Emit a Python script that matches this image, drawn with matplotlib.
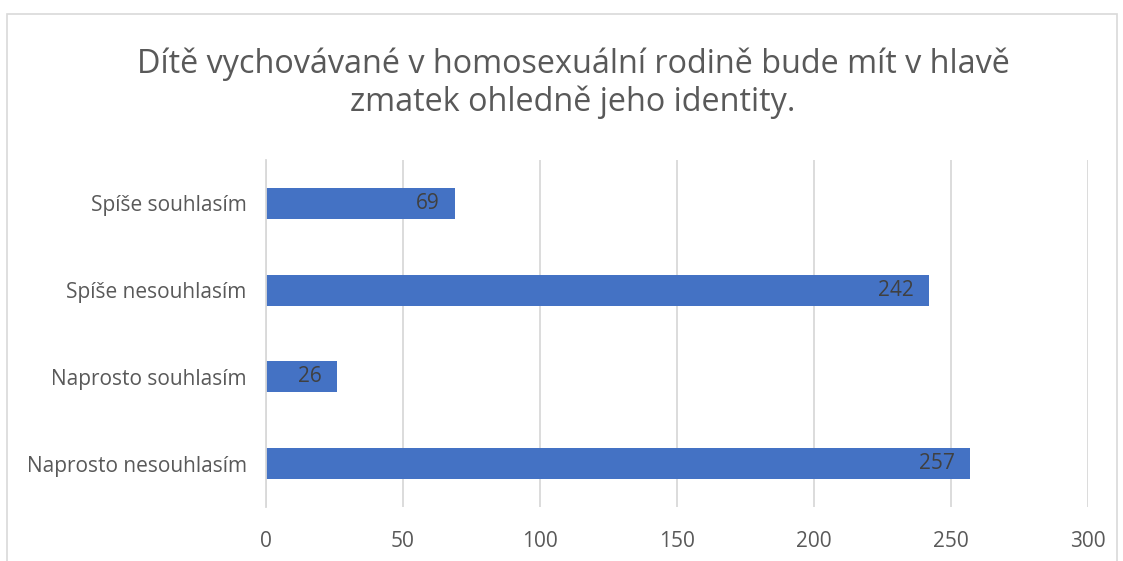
import matplotlib.pyplot as plt
from matplotlib.patches import Rectangle

plt.rcParams['font.family'] = ['Open Sans', 'DejaVu Sans']

categories = ['Naprosto nesouhlasím', 'Naprosto souhlasím', 'Spíše nesouhlasím', 'Spíše souhlasím']
values = [257, 26, 242, 69]
xticks = [0, 50, 100, 150, 200, 250, 300]
title = 'Dítě vychovávané v homosexuální rodině bude mít v hlavě\nzmatek ohledně jeho identity.'

text_col = '#595959'
grid_col = '#D9D9D9'
bar_col = '#4472C4'

fig = plt.figure(figsize=(11.23, 5.61), dpi=100)
# chart frame
fig.patches.append(Rectangle((7 / 1123, -0.05), (1117 - 7) / 1123, 1.05 - 14 / 561,
                             transform=fig.transFigure, fill=False,
                             edgecolor=grid_col, linewidth=1.2))

ax = fig.add_axes([266 / 1123, 1 - 507 / 561, (1088 - 266) / 1123, (507 - 160) / 561])
pos = list(range(len(categories)))
bars = ax.barh(pos, values, height=0.36, color=bar_col, zorder=2)

for y, v in zip(pos, values):
    ax.text(v - 5.5, y, str(v), ha='right', va='center', fontsize=15,
            color='#404040', zorder=3)

ax.set_xlim(0, 300)
ax.set_ylim(-0.5, 3.5)
ax.set_xticks(xticks)
ax.set_yticks(pos)
ax.set_yticklabels(categories)
ax.tick_params(axis='both', length=0, colors=text_col, labelsize=15)
ax.tick_params(axis='x', pad=17)
ax.tick_params(axis='y', pad=14)
ax.grid(axis='x', color=grid_col, linewidth=1.3, zorder=0)
for s in ['top', 'right', 'bottom']:
    ax.spines[s].set_visible(False)
ax.spines['left'].set_color(grid_col)
ax.spines['left'].set_linewidth(1.3)

fig.text(573 / 1123, 1 - 83 / 561, title, ha='center', va='center',
         fontsize=23.3, color=text_col, linespacing=1.18)

fig.savefig('out.png', dpi=100)
